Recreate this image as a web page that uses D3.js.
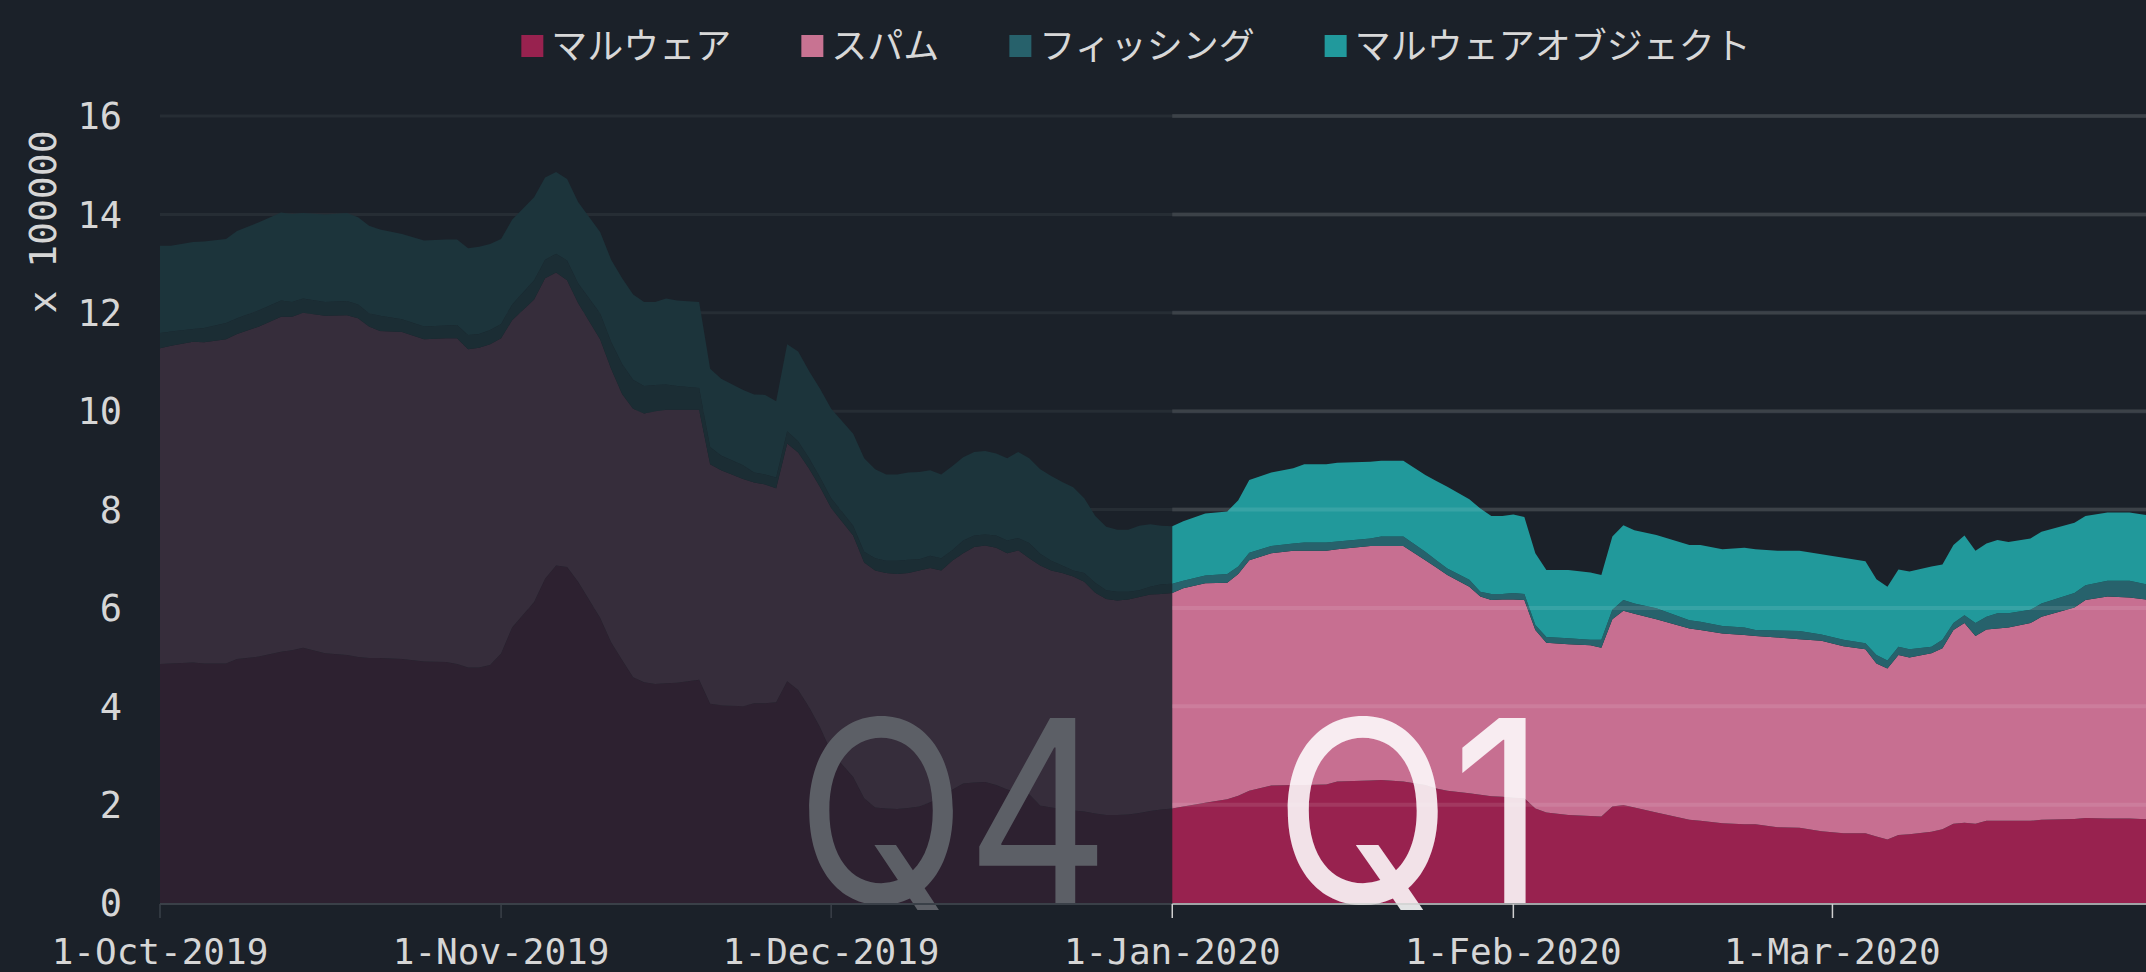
<!DOCTYPE html>
<html><head><meta charset="utf-8">
<script src="https://cdn.jsdelivr.net/npm/d3@7/dist/d3.min.js"></script>
<style>
html,body{margin:0;padding:0;background:#1b2129;}
svg{display:block;}
</style></head>
<body>
<svg id="chart" width="2146" height="972"></svg>
<script>
const seriesNames = ["マルウェア","スパム","フィッシング","マルウェアオブジェクト"];
const yTicks = [0,2,4,6,8,10,12,14,16];
const xTickDates = ["2019-10-01","2019-11-01","2019-12-01","2020-01-01","2020-02-01","2020-03-01"];
const dates = ["2019-10-01","2019-10-02","2019-10-04","2019-10-05","2019-10-07","2019-10-08","2019-10-10","2019-10-12","2019-10-13","2019-10-14","2019-10-16","2019-10-18","2019-10-19","2019-10-20","2019-10-21","2019-10-23","2019-10-25","2019-10-27","2019-10-28","2019-10-29","2019-10-30","2019-10-31",
"2019-11-01","2019-11-02","2019-11-04","2019-11-05","2019-11-06","2019-11-07","2019-11-08","2019-11-10","2019-11-11","2019-11-12","2019-11-13","2019-11-14","2019-11-15","2019-11-16","2019-11-17","2019-11-19","2019-11-20","2019-11-21","2019-11-23","2019-11-24","2019-11-25","2019-11-26","2019-11-27","2019-11-28","2019-11-29","2019-11-30",
"2019-12-01","2019-12-03","2019-12-04","2019-12-05","2019-12-06","2019-12-07","2019-12-08","2019-12-09","2019-12-10","2019-12-11","2019-12-12","2019-12-13","2019-12-14","2019-12-15","2019-12-16","2019-12-17","2019-12-18","2019-12-19","2019-12-20","2019-12-21","2019-12-22","2019-12-23","2019-12-24","2019-12-25","2019-12-26","2019-12-27","2019-12-28","2019-12-29","2019-12-30","2019-12-31",
"2020-01-01","2020-01-02","2020-01-04","2020-01-06","2020-01-07","2020-01-08","2020-01-10","2020-01-12","2020-01-13","2020-01-15","2020-01-16","2020-01-19","2020-01-20","2020-01-22","2020-01-24","2020-01-25","2020-01-26","2020-01-28","2020-01-29","2020-01-30","2020-01-31",
"2020-02-01","2020-02-02","2020-02-03","2020-02-04","2020-02-06","2020-02-08","2020-02-09","2020-02-10","2020-02-11","2020-02-12","2020-02-14","2020-02-17","2020-02-18","2020-02-20","2020-02-22","2020-02-23","2020-02-25","2020-02-27","2020-02-29",
"2020-03-02","2020-03-04","2020-03-05","2020-03-06","2020-03-07","2020-03-08","2020-03-10","2020-03-11","2020-03-12","2020-03-13","2020-03-14","2020-03-15","2020-03-16","2020-03-17","2020-03-19","2020-03-20","2020-03-23","2020-03-24","2020-03-26","2020-03-28","2020-03-30"];
const malware = [4.86,4.87,4.89,4.87,4.87,4.96,5.01,5.11,5.14,5.19,5.08,5.04,5.00,4.98,4.98,4.96,4.91,4.90,4.86,4.79,4.79,4.84,
5.07,5.60,6.12,6.59,6.86,6.83,6.53,5.80,5.30,4.94,4.59,4.49,4.45,4.47,4.48,4.54,4.05,4.02,4.00,4.06,4.06,4.08,4.51,4.33,3.98,3.57,
3.07,2.56,2.13,1.94,1.92,1.91,1.93,1.96,2.05,2.14,2.30,2.43,2.45,2.46,2.40,2.31,2.25,2.21,1.98,1.94,1.91,1.88,1.86,1.82,1.79,1.79,1.80,1.83,1.87,1.90,
1.92,1.96,2.04,2.11,2.18,2.28,2.39,2.40,2.40,2.41,2.47,2.49,2.50,2.47,2.40,2.33,2.28,2.23,2.20,2.17,2.16,
2.14,2.13,1.92,1.84,1.79,1.77,1.76,1.96,1.99,1.94,1.84,1.69,1.67,1.62,1.60,1.60,1.54,1.53,1.46,
1.42,1.42,1.35,1.29,1.38,1.40,1.45,1.50,1.61,1.63,1.61,1.67,1.67,1.67,1.67,1.69,1.71,1.73,1.72,1.72,1.70];
const spam = [6.42,6.46,6.52,6.53,6.59,6.61,6.71,6.81,6.78,6.81,6.86,6.91,6.89,6.74,6.65,6.65,6.55,6.58,6.62,6.47,6.50,6.52,
6.41,6.25,6.15,6.11,5.96,5.83,5.67,5.66,5.56,5.41,5.46,5.46,5.55,5.56,5.55,5.49,4.87,4.78,4.62,4.49,4.45,4.35,4.83,4.83,4.85,4.88,
4.96,4.91,4.79,4.82,4.79,4.78,4.78,4.80,4.76,4.62,4.66,4.68,4.79,4.81,4.82,4.80,4.92,4.80,4.88,4.82,4.80,4.76,4.67,4.49,4.39,4.36,4.37,4.39,4.40,4.38,
4.38,4.44,4.46,4.40,4.51,4.69,4.72,4.76,4.76,4.75,4.72,4.77,4.76,4.79,4.57,4.49,4.39,4.20,4.03,3.99,4.01,
4.03,4.03,3.63,3.45,3.47,3.47,3.43,3.81,3.95,3.94,3.93,3.89,3.88,3.86,3.85,3.83,3.86,3.83,3.87,
3.80,3.74,3.52,3.48,3.66,3.59,3.63,3.68,3.94,4.06,3.82,3.89,3.91,3.93,4.02,4.13,4.30,4.43,4.51,4.49,4.46];
const phishing = [0.31,0.29,0.26,0.29,0.33,0.32,0.33,0.33,0.30,0.29,0.28,0.29,0.28,0.27,0.31,0.26,0.26,0.26,0.27,0.29,0.28,0.29,
0.29,0.32,0.39,0.38,0.38,0.40,0.40,0.53,0.55,0.61,0.59,0.56,0.53,0.51,0.48,0.44,0.35,0.30,0.28,0.20,0.20,0.22,0.25,0.23,0.21,0.20,
0.20,0.20,0.22,0.25,0.25,0.27,0.27,0.23,0.25,0.25,0.21,0.26,0.23,0.22,0.25,0.26,0.25,0.31,0.24,0.20,0.15,0.12,0.18,0.20,0.18,0.18,0.16,0.14,0.16,0.20,
0.19,0.15,0.16,0.18,0.15,0.15,0.15,0.15,0.17,0.17,0.16,0.15,0.19,0.19,0.17,0.15,0.13,0.14,0.10,0.12,0.11,
0.13,0.12,0.10,0.12,0.12,0.11,0.16,0.19,0.22,0.21,0.22,0.17,0.17,0.15,0.15,0.12,0.14,0.17,0.13,
0.13,0.12,0.17,0.16,0.17,0.17,0.13,0.17,0.14,0.16,0.26,0.26,0.31,0.29,0.27,0.27,0.29,0.30,0.32,0.34,0.30];
const malwareObject = [1.77,1.74,1.77,1.76,1.71,1.77,1.79,1.79,1.79,1.74,1.78,1.79,1.77,1.78,1.75,1.73,1.75,1.75,1.74,1.76,1.77,1.75,
1.73,1.72,1.69,1.67,1.66,1.66,1.65,1.65,1.67,1.74,1.73,1.71,1.69,1.75,1.74,1.75,1.59,1.56,1.53,1.59,1.62,1.55,1.77,1.82,1.77,1.80,
1.82,1.87,1.90,1.81,1.75,1.75,1.77,1.77,1.74,1.70,1.71,1.69,1.70,1.70,1.67,1.67,1.75,1.72,1.72,1.72,1.70,1.69,1.52,1.36,1.29,1.26,1.26,1.31,1.27,1.19,
1.17,1.21,1.26,1.27,1.35,1.48,1.49,1.53,1.59,1.59,1.60,1.56,1.54,1.54,1.56,1.61,1.66,1.64,1.69,1.59,1.59,
1.60,1.57,1.46,1.36,1.39,1.37,1.32,1.49,1.52,1.49,1.49,1.53,1.56,1.56,1.62,1.64,1.62,1.63,1.63,
1.67,1.67,1.54,1.50,1.57,1.58,1.63,1.53,1.59,1.62,1.47,1.49,1.49,1.45,1.45,1.46,1.43,1.41,1.39,1.39,1.41];

const q1Colors = ["#98224f","#c76f91","#27626c","#21999b"];
const q4Colors = ["#2d2130","#362d3b","#1b2d34","#1c343b"];
const legendColors = ["#98224f","#c87392","#27616b","#21999c"];

(function(){
const parse = d3.utcParse("%Y-%m-%d");
const rows = dates.map((d,i)=>({date:parse(d), s0:malware[i], s1:spam[i], s2:phishing[i], s3:malwareObject[i]}));
const keys = ["s0","s1","s2","s3"];
const stacked = d3.stack().keys(keys)(rows);

const svg = d3.select("#chart");
const W = 2146, H = 972;
const pL = 160, pR = 2146, pT = 116, pB = 903;
const x = d3.scaleUtc().domain([parse("2019-10-01"), new Date(Date.UTC(2020,2,29,12))]).range([pL, pR]);
const y = d3.scaleLinear().domain([0,16]).range([pB, pT]);
const xSplit = x(parse("2020-01-01"));

svg.append("rect").attr("width",W).attr("height",H).attr("fill","#1b2129");

const defs = svg.append("defs");
defs.append("clipPath").attr("id","clipQ4").append("rect").attr("x",pL).attr("y",0).attr("width",xSplit-pL).attr("height",pB);
defs.append("clipPath").attr("id","clipQ1").append("rect").attr("x",xSplit).attr("y",0).attr("width",pR-xSplit).attr("height",pB);
defs.append("clipPath").attr("id","clipQtext").append("rect").attr("x",0).attr("y",0).attr("width",W).attr("height",pB+7);

svg.append("g").selectAll("line").data(yTicks.filter(t=>t>0)).join("line")
  .attr("x1",pL).attr("x2",pR).attr("y1",d=>y(d)).attr("y2",d=>y(d))
  .attr("stroke","#262d34").attr("stroke-width",3);

const area = d3.area().x(d=>x(d.data.date)).y0(d=>y(d[0])).y1(d=>y(d[1])).curve(d3.curveLinear);

svg.append("g").attr("clip-path","url(#clipQ4)").selectAll("path").data(stacked).join("path")
  .attr("d",area).attr("fill",(d,i)=>q4Colors[i]);
svg.append("g").attr("clip-path","url(#clipQ1)").selectAll("path").data(stacked).join("path")
  .attr("d",area).attr("fill",(d,i)=>q1Colors[i]);

svg.append("g").selectAll("line").data(yTicks.filter(t=>t>0)).join("line")
  .attr("x1",xSplit).attr("x2",pR).attr("y1",d=>y(d)).attr("y2",d=>y(d))
  .attr("stroke","rgba(255,255,255,0.1)").attr("stroke-width",4);

const qg = svg.append("g").attr("clip-path","url(#clipQtext)");
qg.append("text").attr("x",1110).attr("y",pB).attr("text-anchor","end")
  .attr("font-family","Inter").attr("font-size",254)
  .attr("textLength",314).attr("lengthAdjust","spacingAndGlyphs")
  .attr("fill","#5c5f66").text("Q4");
qg.append("text").attr("x",1274).attr("y",pB).attr("text-anchor","start")
  .attr("font-family","Inter").attr("font-size",254)
  .attr("textLength",272).attr("lengthAdjust","spacingAndGlyphs")
  .attr("fill","#ffffff").attr("fill-opacity",0.87).text("Q1");

const xTicks = xTickDates.map(parse);
svg.append("line").attr("x1",pL).attr("x2",xSplit).attr("y1",pB+1).attr("y2",pB+1)
  .attr("stroke","#3a4048").attr("stroke-width",2);
svg.append("line").attr("x1",xSplit).attr("x2",pR).attr("y1",pB+1).attr("y2",pB+1)
  .attr("stroke","#d0d0d0").attr("stroke-width",1.5);
svg.append("g").selectAll("line").data(xTicks).join("line")
  .attr("x1",d=>x(d)).attr("x2",d=>x(d)).attr("y1",pB+1).attr("y2",pB+15)
  .attr("stroke",d=>x(d)>=xSplit-1?"#d0d0d0":"#3a4048").attr("stroke-width",1.5);
const fmt = d3.utcFormat("%-d-%b-%Y");
svg.append("g").selectAll("text").data(xTicks).join("text")
  .attr("x",d=>x(d)).attr("y",964).attr("text-anchor","middle")
  .attr("font-family","DejaVu Sans Mono").attr("font-size",36).attr("fill","#d6d6d6")
  .text(d=>fmt(d));

svg.append("g").selectAll("text").data(yTicks).join("text")
  .attr("x",122).attr("y",d=>y(d)).attr("dy","0.36em").attr("text-anchor","end")
  .attr("font-family","DejaVu Sans Mono").attr("font-size",37).attr("fill","#d6d6d6")
  .text(d=>d);
svg.append("text").attr("transform","translate(56,222) rotate(-90)").attr("text-anchor","middle")
  .attr("font-family","DejaVu Sans Mono").attr("font-size",38).attr("fill","#d6d6d6")
  .text("x 100000");

const lg = svg.append("g");
let cx = 0;
const gap = 70;
seriesNames.forEach((name,i)=>{
  const g = lg.append("g").attr("transform",`translate(${cx},0)`);
  g.append("rect").attr("x",0).attr("y",35).attr("width",22).attr("height",22).attr("fill",legendColors[i]);
  const t = g.append("text").attr("x",30).attr("y",46).attr("dy","0.35em")
    .attr("font-family","'Noto Sans CJK JP'").attr("font-size",36).attr("fill","#d8d8d8").text(name);
  const w = t.node().getComputedTextLength();
  cx += 30 + w + gap;
});
const totalW = cx - gap;
lg.attr("transform",`translate(${1136 - totalW/2},0)`);
})();
</script>
</body></html>
